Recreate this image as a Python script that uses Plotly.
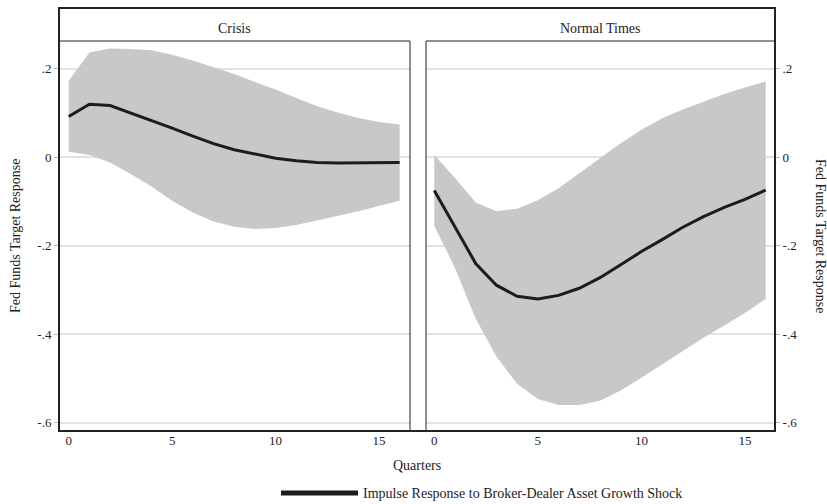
import plotly.graph_objects as go

# ---------------- data ----------------
quarters = list(range(17))

crisis_irf = [0.092, 0.120, 0.117, 0.100, 0.084, 0.066, 0.048, 0.031, 0.017,
              0.007, -0.002, -0.008, -0.012, -0.013, -0.013, -0.013, -0.012]
crisis_upper = [0.173, 0.237, 0.246, 0.245, 0.242, 0.232, 0.219, 0.204, 0.188,
                0.170, 0.153, 0.134, 0.116, 0.101, 0.089, 0.080, 0.074]
crisis_lower = [0.013, 0.005, -0.012, -0.038, -0.066, -0.098, -0.125, -0.145, -0.157,
                -0.162, -0.160, -0.153, -0.143, -0.133, -0.122, -0.110, -0.098]

normal_irf = [-0.075, -0.157, -0.240, -0.289, -0.314, -0.320, -0.312, -0.296, -0.272,
              -0.243, -0.213, -0.186, -0.158, -0.134, -0.113, -0.095, -0.074]
normal_upper = [0.005, -0.047, -0.102, -0.122, -0.116, -0.097, -0.070, -0.036, 0.000,
                0.032, 0.062, 0.088, 0.108, 0.126, 0.143, 0.158, 0.171]
normal_lower = [-0.155, -0.250, -0.365, -0.450, -0.512, -0.546, -0.560, -0.560, -0.550,
                -0.527, -0.498, -0.468, -0.438, -0.408, -0.380, -0.352, -0.320]

panel_titles = ["Crisis", "Normal Times"]
x_tick_vals = [0, 5, 10, 15]
y_tick_vals = [0.2, 0.0, -0.2, -0.4, -0.6]
y_tick_text = [".2", "0", "-.2", "-.4", "-.6"]
x_title = "Quarters"
y_title = "Fed Funds Target Response"
legend_text = "Impulse Response to Broker-Dealer Asset Growth Shock"

# ---------------- layout geometry ----------------
W, H = 827, 504
FONT = "Liberation Serif"
FS = 14
BAND = "#c7c8ca"
LINE = "#1c1c1c"
GRID = "#e2e2e2"
TXT = "#222"

def px(x):
    return x / W

def py(y):
    return 1 - y / H

left_dom = [px(59), px(410)]
right_dom = [px(426), px(775)]
y_dom = [py(431), py(41)]
y_range = [-0.6185, 0.2628]

fig = go.Figure()

panels = [
    (crisis_lower, crisis_upper, crisis_irf, "x", "y"),
    (normal_lower, normal_upper, normal_irf, "x2", "y2"),
]
for lo, up, irf, xa, ya in panels:
    fig.add_trace(go.Scatter(x=quarters, y=lo, mode="lines", line=dict(width=0, color=BAND),
                             xaxis=xa, yaxis=ya, showlegend=False, hoverinfo="skip"))
    fig.add_trace(go.Scatter(x=quarters, y=up, mode="lines", line=dict(width=0, color=BAND),
                             fill="tonexty", fillcolor=BAND,
                             xaxis=xa, yaxis=ya, showlegend=False, hoverinfo="skip"))
    fig.add_trace(go.Scatter(x=quarters, y=irf, mode="lines", line=dict(width=3, color=LINE),
                             xaxis=xa, yaxis=ya, showlegend=False))

axis_font = dict(family=FONT, size=FS - 1, color=TXT)
xcommon = dict(tickvals=x_tick_vals, ticks="", showgrid=False, zeroline=False,
               showline=False, tickfont=axis_font, fixedrange=True)
ycommon = dict(range=y_range, domain=y_dom, tickvals=y_tick_vals, ticktext=y_tick_text,
               showgrid=True, gridcolor=GRID, gridwidth=1.5, zeroline=False,
               showline=False, ticks="outside", ticklen=4, tickcolor="#bbbbbb",
               tickfont=axis_font, fixedrange=True)

fig.update_layout(
    width=W, height=H,
    margin=dict(l=0, r=0, t=0, b=0),
    paper_bgcolor="white", plot_bgcolor="white",
    showlegend=False,
    font=dict(family=FONT, size=FS, color=TXT),
    xaxis=dict(domain=left_dom, range=[-0.47, 16.5], anchor="y", **xcommon),
    xaxis2=dict(domain=right_dom, range=[-0.40, 16.45], anchor="y2", **xcommon),
    yaxis=dict(anchor="x", side="left", **ycommon),
    yaxis2=dict(anchor="x2", side="right", **ycommon),
)

# frames
shapes = [
    dict(type="rect", xref="paper", yref="paper", x0=px(59), x1=px(775), y0=py(431), y1=py(8),
         line=dict(color="#222", width=2), layer="above"),
    dict(type="rect", xref="paper", yref="paper", x0=px(59), x1=px(410), y0=py(431), y1=py(41),
         line=dict(color="#222", width=1), layer="above"),
    dict(type="rect", xref="paper", yref="paper", x0=px(426), x1=px(775), y0=py(431), y1=py(41),
         line=dict(color="#222", width=1), layer="above"),
    # legend key
    dict(type="line", xref="paper", yref="paper", x0=px(281), x1=px(358), y0=py(493), y1=py(493),
         line=dict(color=LINE, width=5)),
]
fig.update_layout(shapes=shapes)

txt_font = dict(family=FONT, size=FS, color=TXT)
ann = []
for title, cx in zip(panel_titles, [(59 + 410) / 2, (426 + 775) / 2]):
    ann.append(dict(text=title, x=px(cx), y=py(28), xref="paper", yref="paper",
                    showarrow=False, font=txt_font, xanchor="center", yanchor="middle"))
ann.append(dict(text=y_title, x=px(15), y=py(236), xref="paper", yref="paper", textangle=-90,
                showarrow=False, font=txt_font, xanchor="center", yanchor="middle"))
ann.append(dict(text=y_title, x=px(821), y=py(236), xref="paper", yref="paper", textangle=90,
                showarrow=False, font=txt_font, xanchor="center", yanchor="middle"))
ann.append(dict(text=x_title, x=px(417), y=py(465), xref="paper", yref="paper",
                showarrow=False, font=txt_font, xanchor="center", yanchor="middle"))
ann.append(dict(text=legend_text, x=px(361), y=py(493), xref="paper", yref="paper",
                showarrow=False, font=txt_font, xanchor="left", yanchor="middle"))
fig.update_layout(annotations=ann)

fig.write_html("out.html")
